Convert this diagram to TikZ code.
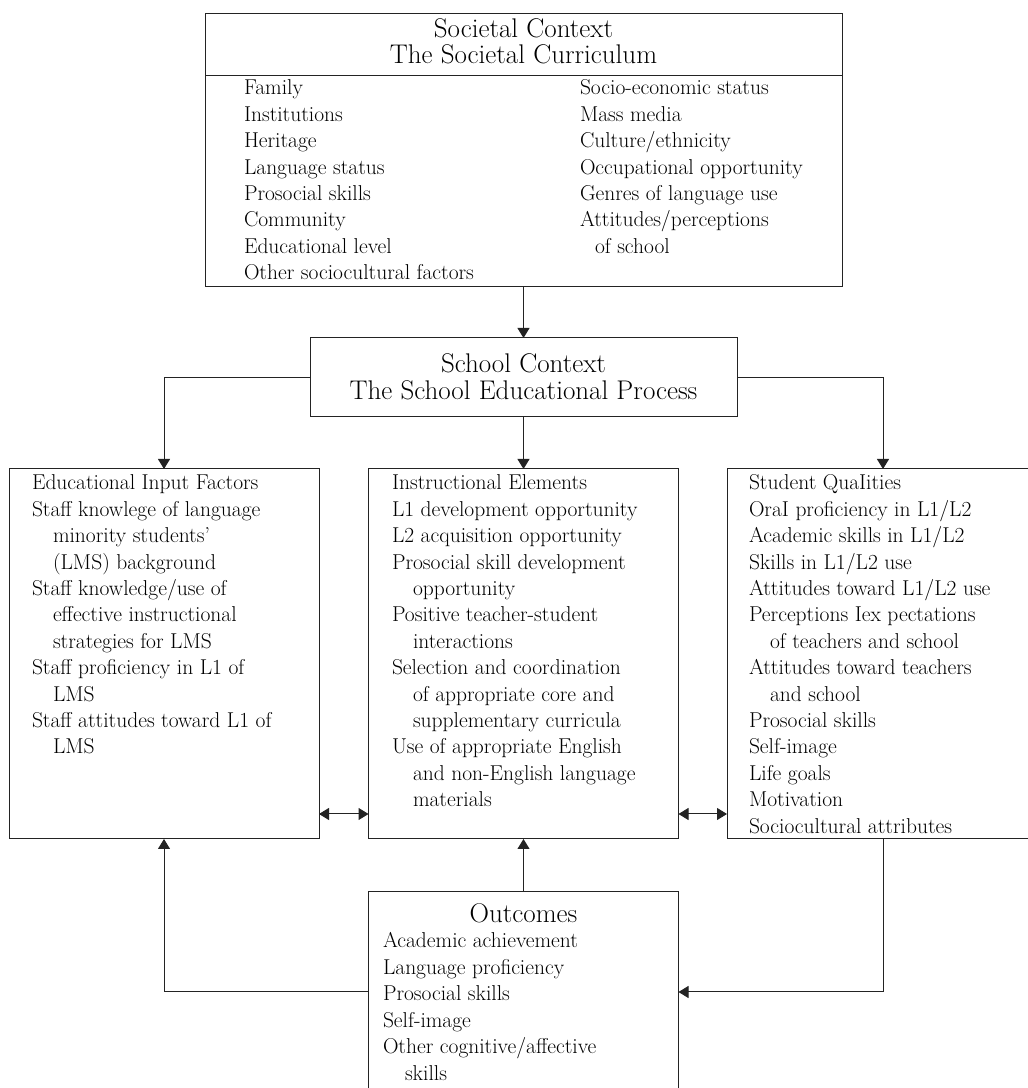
\documentclass[tikz,border=0pt]{standalone}
\usetikzlibrary{arrows.meta}

\begin{document}
\begin{tikzpicture}[x=1pt,y=1pt,
  box/.style={draw=drawColor,line width=1pt,inner sep=0pt,outer sep=0pt},
  head/.style={text=textColor,anchor=base,inner sep=0pt,outer sep=0pt,font=\fontsize{27}{27}\selectfont},
  item/.style={text=textColor,anchor=base west,inner sep=0pt,outer sep=0pt,font=\fontsize{21.5}{26}\selectfont},
  link/.style={draw=drawColor,line width=1pt,-{Triangle[length=10pt,width=12pt]}},
  dlink/.style={draw=drawColor,line width=1pt,{Triangle[length=10pt,width=12pt]}-{Triangle[length=10pt,width=12pt]}}]
\definecolor{drawColor}{RGB}{35,35,35}
\definecolor{textColor}{RGB}{0,0,0}
\path[use as bounding box] (0,0) rectangle (1028,1088);

\node[box,minimum width=637,minimum height=273] (society) at (523.5,937.5) {};
\draw[draw=drawColor,line width=1pt] ([yshift=-62]society.north west) -- ([yshift=-62]society.north east);
\node[head] (society-t1) at (523.5,1050) {Societal Context};
\node[head] (society-t2) at (523.5,1024) {The Societal Curriculum};
\foreach \txt [count=\i from 0] in {Family,Institutions,Heritage,Language status,Prosocial skills,Community,Educational level,Other sociocultural factors}
  \node[item] (society-l\i) at (244,993-26.4*\i) {\txt};
\foreach \txt [count=\i from 0] in {Socio-economic status,Mass media,Culture/ethnicity,Occupational opportunity,Genres of language use,Attitudes/perceptions,\hspace*{15pt}of school}
  \node[item] (society-r\i) at (580,993-26.4*\i) {\txt};

\node[box,minimum width=427,minimum height=79] (school) at (523.5,710.5) {};
\node[head] (school-t1) at (523.5,715) {School Context};
\node[head] (school-t2) at (523.5,688.5) {The School Educational Process};

\node[box,minimum width=310,minimum height=370] (input) at (164,434) {};
\foreach \txt [count=\i from 0] in {Educational Input Factors,Staff knowlege of language,\hspace*{21pt}minority students’,\hspace*{21pt}(LMS) background,Staff knowledge/use of,\hspace*{21pt}effective instructional,\hspace*{21pt}strategies for LMS,Staff proficiency in L1 of,\hspace*{21pt}LMS,Staff attitudes toward L1 of,\hspace*{21pt}LMS}
  \node[item] (input-\i) at (32,598-26.4*\i) {\txt};

\node[box,minimum width=310,minimum height=370] (instr) at (523.5,434) {};
\foreach \txt [count=\i from 0] in {Instructional Elements,L1 development opportunity,L2 acquisition opportunity,Prosocial skill development,\hspace*{21pt}opportunity,Positive teacher-student,\hspace*{21pt}interactions,Selection and coordination,\hspace*{21pt}of appropriate core and,\hspace*{21pt}supplementary curricula,Use of appropriate English,\hspace*{21pt}and non-English language,\hspace*{21pt}materials}
  \node[item] (instr-\i) at (392,598-26.4*\i) {\txt};

\node[box,minimum width=312,minimum height=370] (qual) at (883,434) {};
\foreach \txt [count=\i from 0] in {Student QuaIities,OraI proficiency in L1/L2,Academic skills in L1/L2,Skills in L1/L2 use,Attitudes toward L1/L2 use,Perceptions Iex pectations,\hspace*{21pt}of teachers and school,Attitudes toward teachers,\hspace*{21pt}and school,Prosocial skills,Self-image,Life goals,Motivation,Sociocultural attributes}
  \node[item] (qual-\i) at (749,598-26.4*\i) {\txt};

\node[box,minimum width=310,minimum height=200] (outcome) at (523.5,96) {};
\node[head] (outcome-t) at (523.5,165) {Outcomes};
\foreach \txt [count=\i from 0] in {Academic achievement,Language proficiency,Prosocial skills,Self-image,Other cognitive/affective,\hspace*{22pt}skills}
  \node[item] (outcome-\i) at (383,140-26.4*\i) {\txt};

\draw[link] (society.south) -- (school.north);
\draw[link] (school.west) -| (input.north);
\draw[link] (school.south) -- (instr.north);
\draw[link] (school.east) -| (qual.north);
\draw[dlink] ([yshift=25]input.south east) -- ([yshift=25]instr.south west);
\draw[dlink] ([yshift=25]instr.south east) -- ([yshift=25]qual.south west);
\draw[link] (outcome.north) -- (instr.south);
\draw[link] (outcome.west) -| (input.south);
\draw[link] (qual.south) |- (outcome.east);
\end{tikzpicture}
\end{document}
